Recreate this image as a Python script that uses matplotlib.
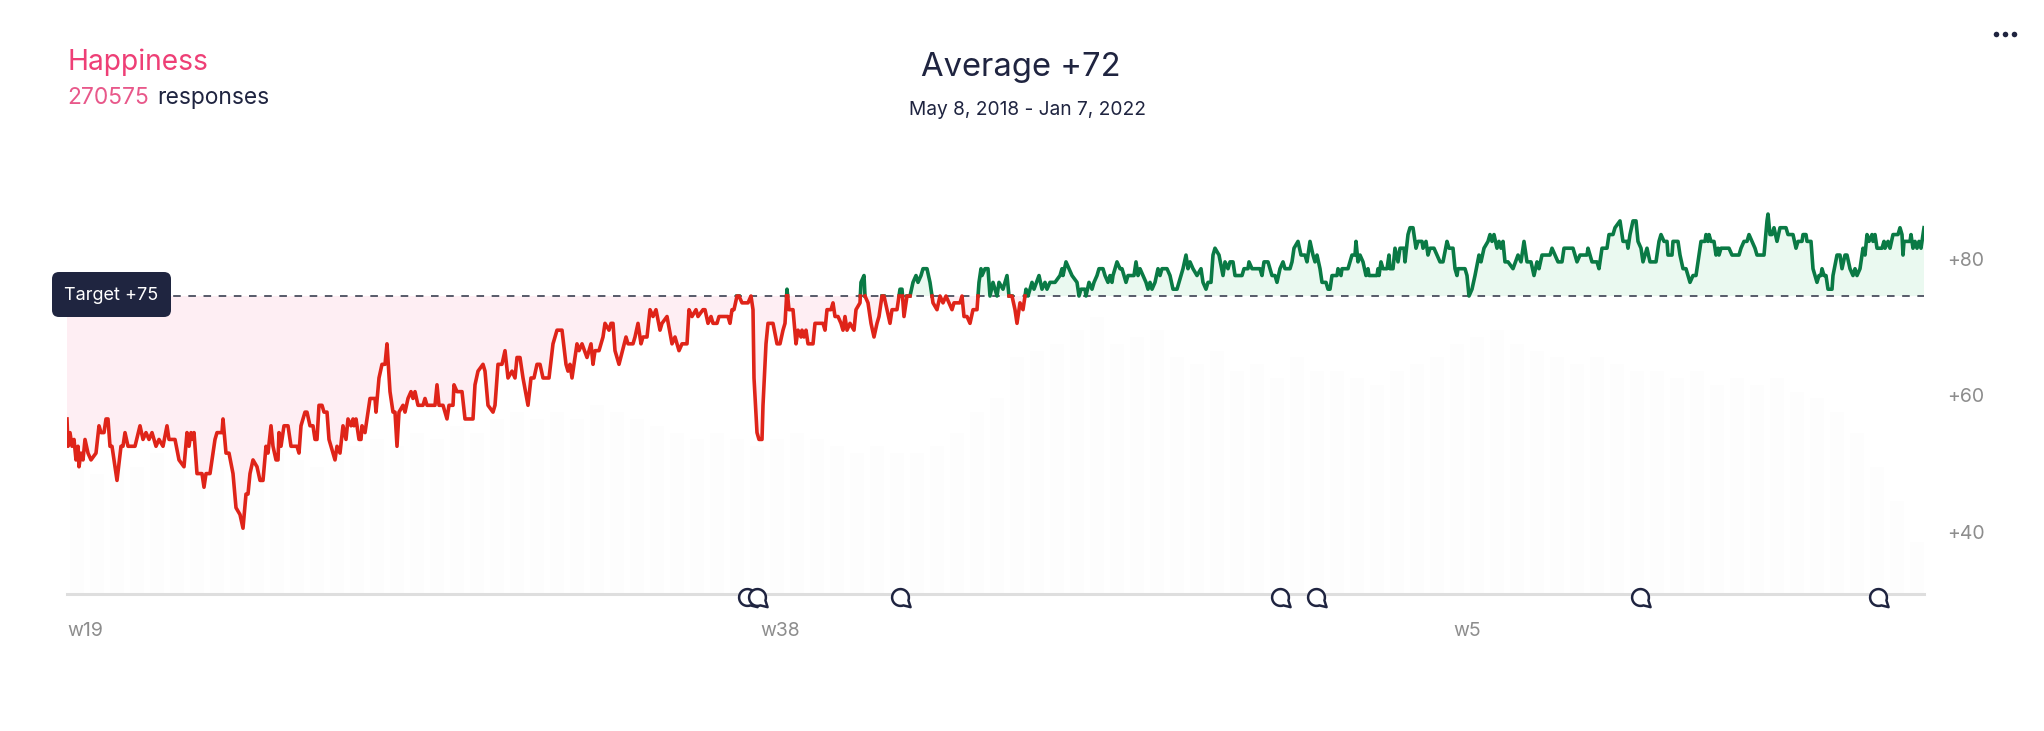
import matplotlib
matplotlib.use('Agg')
import numpy as np
import matplotlib.pyplot as plt
from matplotlib.lines import Line2D
from matplotlib.patches import FancyBboxPatch
from matplotlib.path import Path
from matplotlib.transforms import IdentityTransform, Affine2D

plt.rcParams['font.family'] = ['Inter', 'DejaVu Sans']

# series: position along the axis, score at that position
red_part = [(0,57),(1,53),(3,55),(5,53),(7,54),(9,51),(11,53),(12,50),(14,52),(16,51),(18,54),(21,52),(24,51),(29,52),
    (32,56),(34,55),(37,55),(39,57),(41,57),(43,53),(45,53),(50,48),(54,53),(56,53),(58,55),(61,53),(68,53),(73,56),
    (76,54),(79,55),(82,54),(85,55),(89,53),(92,54),(96,53),(100,56),(102,54),(108,54),(112,51),(117,50),(120,55),
    (122,53),(124,55),(126,54),(127,55),(130,49),(135,49),(137,47),(139,49),(143,49),(148,54),(150,55),(155,55),
    (156,57),(159,52),(162,52),(166,49),(169,44),(173,43),(176,41),(179,46),(181,46),(183,49),(186,51),(190,50),
    (193,48),(196,48),(199,53),(201,52),(204,56),(206,53),(209,51),(211,51),(212,55),(214,53),(217,56),(221,56),
    (224,53),(230,53),(232,52),(234,56),(238,58),(240,58),(243,56),(246,56),(248,54),(250,54),(252,59),(255,59),
    (257,58),(260,58),(262,54),(264,53),(268,51),(270,53),(273,52),(276,56),(279,54),(281,57),(284,56),(286,57),
    (287,56),(289,57),(292,54),(294,54),(295,56),(298,55),(303,60),(308,60),(309,58),(312,63),(315,65),(318,65),
    (320,68),(323,61),(326,58),(328,58),(330,53),(332,58),(336,59),(338,58),(341,60),(344,61),(346,60),(348,61),
    (351,59),(356,59),(358,60),(360,59),(368,59),(370,62),(372,59),(376,59),(380,57),(382,59),(386,59),(387,62),
    (390,61),(395,61),(398,57),(406,57),(408,62),(411,64),(416,65),(418,64),(421,59),(426,58),(428,59),(431,65),
    (435,65),(438,67),(441,63),(445,64),(448,63),(450,66),(453,66),(456,63),(461,59),(464,63),(467,63),(470,65),
    (473,65),(476,63),(482,63),(486,68),(490,70),(495,70),(499,65),(501,64),(503,65),(505,63),(510,68),(512,67),
    (515,68),(520,66),(524,68),(526,65),(528,67),(532,67),(534,68),(536,69),(538,71),(542,70),(544,71),(546,71),
    (548,67),(552,65),(559,69),(561,68),(566,68),(568,69),(571,71),(574,68),(576,69),(580,69),(583,73),(586,72),
    (589,73),(593,70),(595,71),(600,72),(605,68),(608,69),(612,67),(615,68),(620,68),(622,73),(625,72),(629,73),
    (631,72),(636,73),(638,73),(641,71),(644,72),(646,71),(650,71),(652,72),(661,72),(663,71),(665,73),(667,73),
    (670,75),(672,75),(675,74),(681,74),(684,75),(686,73),(687,63),(690,55),(692,54),(695,54),(696,59),(699,68),
    (701,71),(706,71),(710,68),(713,68),(716,70),(718,71),(720,76),(722,73),(726,73),(729,68),(731,70),(734,69),
    (735,70),(737,69),(739,70),(741,68),(746,68),(748,71),(756,71),(758,70),(760,73),(764,73),(766,74),(768,72),
    (771,72),(774,71),(776,70),(778,72),(780,70),(783,71),(787,70),(789,73),(793,74),(794,77),(797,78),(798,75),
    (801,74),(804,71),(807,69),(810,71),(812,72),(815,75),(817,75),(820,73),(823,71),(825,73),(830,73),(833,76),
    (835,76),(837,72),(840,75),(843,75),(846,77),(849,78),(851,77),(854,78),(856,79),(860,79),(863,77),(866,74),
    (870,73),(873,75),(876,74),(879,75),(882,74),(885,73),(887,74),(893,74),(895,75),(897,72),(900,72),(903,71),
    (906,73),(910,73),(912,77),(914,79),(915,78),(918,79),(921,79),(923,75),(926,77),(930,75),(932,77),(936,76),
    (940,78),(942,75),(945,75),(948,73),(950,71),(953,74),(956,73),(959,76),(961,75),(965,77),(967,76),(972,78),
    (975,76),(978,77),(980,76),(983,77),(988,77)]
green_part = [(993,78),(995,79),(996,78),(999,80),(1002,79),(1005,78),(1010,77),(1012,75),(1014,76),(1018,76),(1019,75),
    (1022,77),(1025,76),(1027,77),(1030,78),(1032,79),(1036,79),(1038,78),(1041,77),(1043,78),(1045,77),(1046,78),
    (1050,80),(1053,79),(1055,79),(1059,77),(1061,78),(1067,78),(1069,80),(1071,78),(1073,79),(1076,78),(1079,77),
    (1081,76),(1083,77),(1085,76),(1088,77),(1091,79),(1093,78),(1095,79),(1100,79),(1103,78),(1106,76),(1110,76),
    (1112,77),(1116,79),(1119,81),(1121,79),(1123,80),(1126,79),(1130,78),(1134,79),(1136,77),(1139,76),(1141,77),
    (1144,77),(1146,81),(1148,82),(1152,81),(1156,78),(1158,80),(1161,79),(1163,80),(1166,80),(1168,78),(1175,78),
    (1177,79),(1181,79),(1182,80),(1185,79),(1193,79),(1195,78),(1197,80),(1201,80),(1205,78),(1208,78),(1210,77),
    (1213,79),(1216,80),(1218,79),(1223,79),(1225,80),(1227,82),(1231,83),(1234,81),(1238,81),(1240,80),(1243,83),
    (1246,81),(1248,80),(1250,81),(1253,79),(1255,77),(1259,77),(1261,76),(1263,76),(1265,78),(1270,78),(1271,79),
    (1274,78),(1275,79),(1281,79),(1285,81),(1288,81),(1289,83),(1291,80),(1293,81),(1296,80),(1299,78),(1301,79),
    (1302,78),(1310,78),(1311,79),(1312,78),(1314,80),(1316,79),(1320,79),(1322,81),(1323,79),(1326,79),(1328,82),
    (1331,80),(1333,82),(1337,82),(1338,80),(1341,84),(1343,85),(1346,85),(1349,82),(1351,83),(1355,83),(1356,82),
    (1359,83),(1361,81),(1363,82),(1367,82),(1370,81),(1373,80),(1376,80),(1380,83),(1382,82),(1386,82),(1388,79),
    (1390,78),(1391,79),(1398,79),(1400,78),(1402,75),(1405,76),(1408,78),(1412,81),(1414,80),(1417,82),(1421,83),
    (1423,84),(1425,83),(1427,84),(1430,82),(1432,83),(1434,82),(1436,83),(1438,80),(1441,80),(1446,79),(1451,81),
    (1454,80),(1457,83),(1460,80),(1464,80),(1467,78),(1470,80),(1472,79),(1475,81),(1483,81),(1485,82),(1488,81),
    (1491,80),(1495,80),(1497,82),(1506,82),(1510,80),(1513,81),(1520,81),(1521,82),(1525,80),(1530,80),(1532,79),
    (1535,82),(1540,82),(1542,84),(1546,84),(1548,85),(1553,86),(1556,83),(1560,83),(1561,82),(1563,84),(1566,86),
    (1569,86),(1571,83),(1574,82),(1576,80),(1580,82),(1583,80),(1589,80),(1592,83),(1594,84),(1597,83),(1600,83),
    (1601,81),(1605,81),(1606,83),(1611,83),(1613,81),(1616,79),(1619,79),(1621,78),(1623,77),(1626,78),(1629,78),
    (1631,80),(1634,83),(1638,83),(1639,84),(1641,83),(1642,84),(1644,83),(1647,83),(1649,81),(1651,82),(1652,81),
    (1654,82),(1662,82),(1665,81),(1672,81),(1674,82),(1677,83),(1680,83),(1682,84),(1685,83),(1688,82),(1690,81),
    (1697,81),(1700,86),(1701,87),(1703,84),(1705,84),(1707,85),(1710,83),(1713,85),(1719,85),(1721,84),(1726,84),
    (1729,82),(1731,83),(1735,83),(1736,84),(1739,84),(1740,83),(1744,83),(1746,79),(1750,77),(1752,78),(1754,78),
    (1755,79),(1757,78),(1759,78),(1761,76),(1765,76),(1766,78),(1770,81),(1773,81),(1775,79),(1778,81),(1780,81),
    (1783,79),(1786,78),(1788,79),(1790,78),(1793,79),(1796,82),(1798,81),(1800,84),(1802,83),(1805,84),(1806,83),
    (1808,84),(1810,82),(1815,82),(1817,83),(1818,82),(1821,83),(1823,82),(1826,84),(1831,84),(1833,85),(1835,84),
    (1836,81),(1837,83),(1843,83),(1844,84),(1846,82),(1848,83),(1850,82),(1852,83),(1854,82),(1856,84),(1857,85)]

target = 75
x_ticks = [0, 693, 1386]
x_labels = ['w19', 'w38', 'w5']
y_ticks = [40, 60, 80]
y_labels = ['+40', '+60', '+80']
comment_pos = [680, 690, 833, 1213, 1249, 1573, 1811]

# faint response count bars behind the line, one every 20 positions
bar_tops = [50,49,51,50,52,51,50,52,51,53,52,51,50,52,53,54,53,55,54,56,55,57,58,57,58,57,59,58,57,56,55,54,55,
    54,53,54,55,54,53,52,53,52,52,53,55,58,60,66,67,68,70,72,68,69,70,66,65,67,64,65,63,66,64,
    64,63,62,64,65,66,68,69,70,68,67,66,65,66,65,64,64,63,64,62,63,62,63,61,60,58,55,50,45,39]

pos = [p[0] for p in red_part + green_part]
score = [p[1] for p in red_part + green_part]

# add a point wherever the line crosses the target so the colour changes right on it
xs, ys = [pos[0]], [score[0]]
for i in range(1, len(pos)):
    if (score[i-1]-target)*(score[i]-target) < 0:
        xs.append(pos[i-1]+(target-score[i-1])*(pos[i]-pos[i-1])/(score[i]-score[i-1]))
        ys.append(target)
    xs.append(pos[i])
    ys.append(score[i])
xs = np.array(xs, dtype=float)
ys = np.array(ys, dtype=float)

W, H = 2044, 731
fig = plt.figure(figsize=(W/100, H/100), dpi=100, facecolor='white')
ax = fig.add_axes([67/W, 1-594/H, 1857/W, 394/H])
ax.set_xlim(0, 1857)
ax.set_ylim(31.37, 89.06)

ax.bar(10+20*np.arange(len(bar_tops)), np.array(bar_tops)-31.37, width=14, bottom=31.37, color='#fdfdfd', zorder=0)
ax.fill_between(xs, ys, target, where=ys <= target, color='#feeef3', lw=0, zorder=1)
ax.fill_between(xs, ys, target, where=ys >= target, color='#eaf9f0', lw=0, zorder=1)
ax.axhline(target, color='#4a4e5e', lw=1.3, dashes=(4.2, 4.2), zorder=2)
ax.plot(xs, np.where(ys >= target, ys, np.nan), color='#0a7a45', lw=2.6, solid_joinstyle='round', zorder=3)
ax.plot(xs, np.where(ys <= target, ys, np.nan), color='#df2419', lw=2.6, solid_joinstyle='round', zorder=3)

ax.set_xticks(x_ticks)
ax.set_xticklabels(x_labels, ha='left')
ax.set_yticks(y_ticks)
ax.set_yticklabels(y_labels)
ax.yaxis.tick_right()
ax.tick_params(axis='both', length=0, labelcolor='#8d8d8d', labelsize=14)
ax.tick_params(axis='x', pad=20.5)
ax.tick_params(axis='y', pad=17)
for lbl in ax.get_yticklabels():
    lbl.set_transform(lbl.get_transform()+Affine2D().translate(0, 3))
for s in ['top', 'left', 'right']:
    ax.spines[s].set_visible(False)
ax.spines['bottom'].set_color('#dedede')
ax.spines['bottom'].set_linewidth(2.2)

# speech bubble markers sitting on the axis
arc = Path.arc(-20, 290)
bubble = Path(np.vstack([arc.vertices, [[1.2, -1.15]], [arc.vertices[0]]]),
              list(arc.codes)+[Path.LINETO, Path.CLOSEPOLY])
ax.plot(comment_pos, [30.9]*len(comment_pos), ls='none', marker=bubble, ms=14.5, mfc='white', mec='#1f2440',
        mew=1.8, clip_on=False, zorder=5)

# target badge
fig.add_artist(FancyBboxPatch((52, H-317), 119, 45, boxstyle='round,pad=0,rounding_size=7',
                              transform=IdentityTransform(), fc='#1f2540', ec='none', zorder=6))
fig.text(111.5/W, 1-295/H, 'Target +75', color='white', fontsize=13, ha='center', va='center', zorder=7)

fig.text(67/W, 1-62.5/H, 'Happiness', color='#ee3f76', fontsize=20.3, va='center')
fig.text(67/W, 1-98/H, '270575', color='#e8588a', fontsize=16.4, va='center')
fig.text(157/W, 1-98/H, 'responses', color='#1f2440', fontsize=16.4, va='center')
fig.text(1021/W, 1-67.5/H, 'Average +72', color='#1f2440', fontsize=23.6, ha='center', va='center')
fig.text(1027/W, 1-110/H, 'May 8, 2018 - Jan 7, 2022', color='#1f2440', fontsize=13.8, ha='center', va='center')

fig.add_artist(Line2D([1996, 2005, 2014], [H-34]*3, transform=IdentityTransform(), ls='none', marker='o', ms=4,
                      color='#1f2440', mew=0))

fig.savefig('out.png', dpi=100)
